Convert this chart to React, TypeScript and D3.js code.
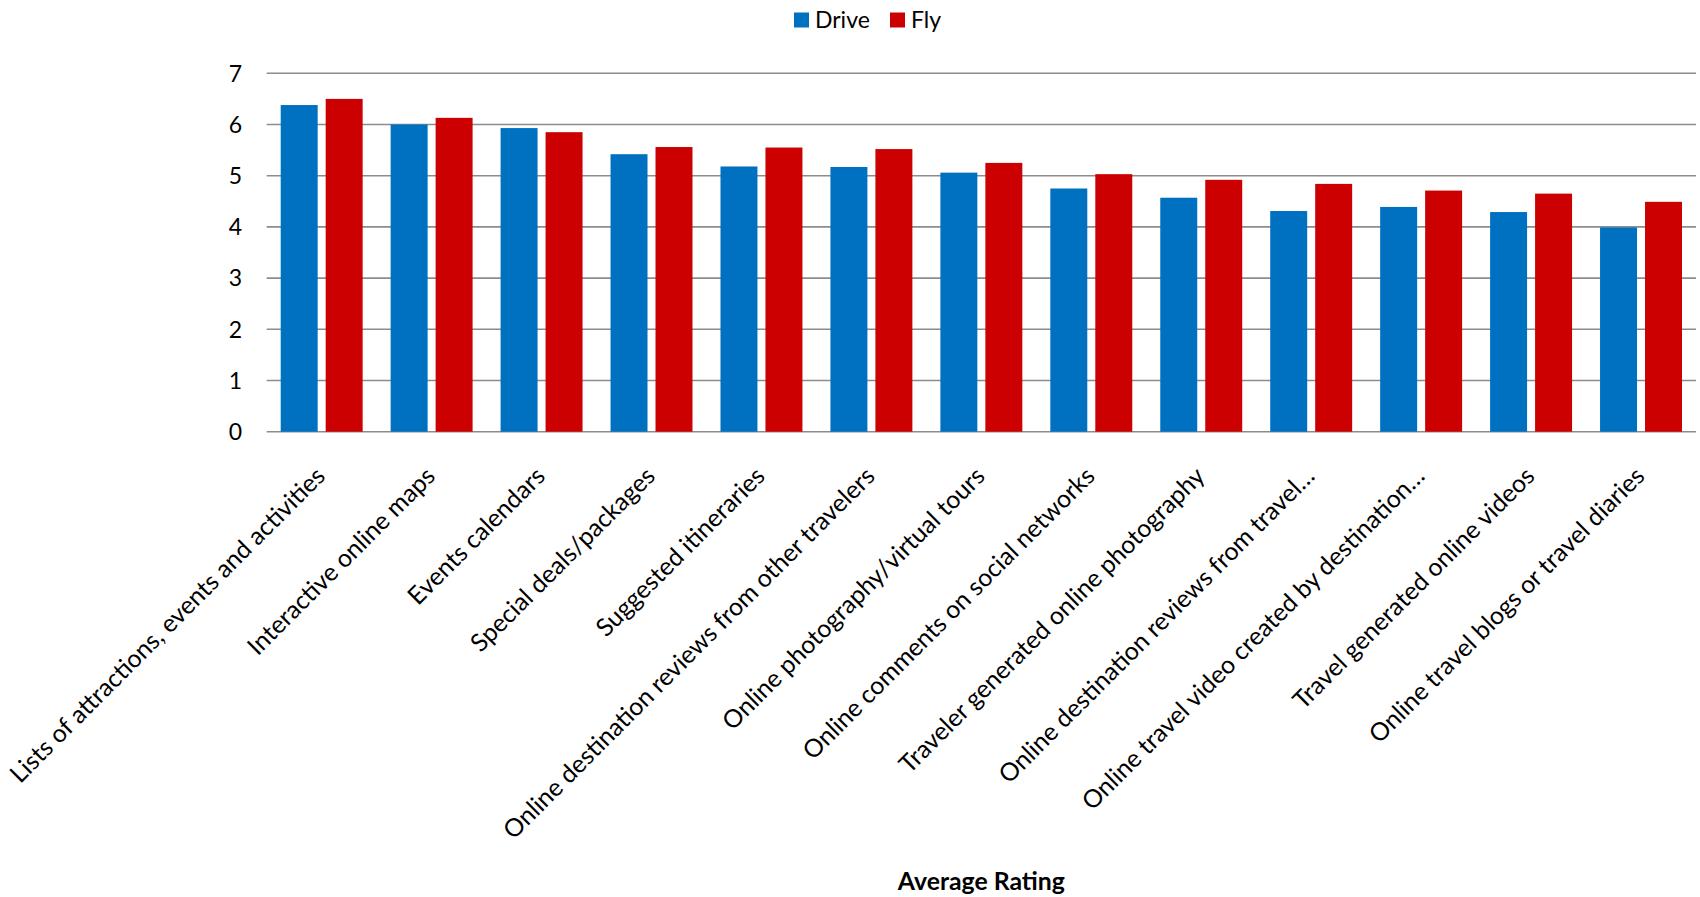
import React from "react";
import * as d3 from "d3";

const categories = [
  "Lists of attractions, events and activities",
  "Interactive online maps",
  "Events calendars",
  "Special deals/packages",
  "Suggested itineraries",
  "Online destination reviews from other travelers",
  "Online photography/virtual tours",
  "Online comments on social networks",
  "Traveler generated online photography",
  "Online destination reviews from travel…",
  "Online travel video created by destination…",
  "Travel generated online videos",
  "Online travel blogs or travel diaries",
];
const seriesNames = ["Drive", "Fly"];
const driveValues = [6.38, 6.0, 5.93, 5.42, 5.18, 5.17, 5.06, 4.75, 4.57, 4.31, 4.39, 4.29, 3.99];
const flyValues = [6.5, 6.13, 5.85, 5.56, 5.55, 5.52, 5.25, 5.03, 4.92, 4.84, 4.71, 4.65, 4.49];
const yTicks = [0, 1, 2, 3, 4, 5, 6, 7];
const colors = ["#0070C0", "#CC0000"];
const axisTitle = "Average Rating";

const W = 1700;
const H = 897;
const FONT = "Lato, 'Open Sans', sans-serif";

export default function App() {
  const left = 266.7;
  const right = 1696;
  const y0 = 431.7;
  const y7 = 73.3;
  const x = d3.scaleBand<string>().domain(categories).range([left, right]).paddingInner(0).paddingOuter(0);
  const bw = x.bandwidth();
  const xs = d3.scaleBand<string>().domain(seriesNames).range([14, bw - 14]).paddingInner(0.178).paddingOuter(0);
  const y = d3.scaleLinear().domain([0, 7]).range([y0, y7]);
  const values = [driveValues, flyValues];

  return (
    <svg width={W} height={H} style={{ position: "absolute", left: 0, top: 0, display: "block", background: "#fff" }}>
      {yTicks.map((t) => (
        <g key={t}>
          <line x1={left} x2={right} y1={y(t)} y2={y(t)} stroke="#8c8c8c" strokeWidth={1.6} />
          <text x={242} y={y(t)} dy="0.36em" textAnchor="end" fontFamily={FONT} fontSize={23} fill="#000">
            {t}
          </text>
        </g>
      ))}
      {categories.map((c, i) => (
        <g key={c}>
          {seriesNames.map((s, j) => (
            <rect
              key={s}
              x={(x(c) ?? 0) + (xs(s) ?? 0)}
              y={y(values[j][i])}
              width={xs.bandwidth()}
              height={y0 - y(values[j][i])}
              fill={colors[j]}
            />
          ))}
        </g>
      ))}
      {categories.map((c) => {
        const cx = (x(c) ?? 0) + bw / 2 + 5;
        const cy = y0 + 46;
        return (
          <text
            key={c}
            x={cx}
            y={cy}
            textAnchor="end"
            transform={`rotate(-45 ${cx} ${cy})`}
            fontFamily={FONT}
            fontSize={24.8}
            fill="#000"
          >
            {c}
          </text>
        );
      })}
      <text x={(left + right) / 2} y={890} textAnchor="middle" fontFamily={FONT} fontWeight="bold" fontSize={24.8} fill="#000">
        {axisTitle}
      </text>
      {seriesNames.map((s, j) => {
        const lx = j === 0 ? 794 : 890;
        return (
          <g key={s}>
            <rect x={lx} y={12.5} width={15} height={15} fill={colors[j]} />
            <text x={lx + 21} y={28} fontFamily={FONT} fontSize={23} fill="#000">
              {s}
            </text>
          </g>
        );
      })}
    </svg>
  );
}
